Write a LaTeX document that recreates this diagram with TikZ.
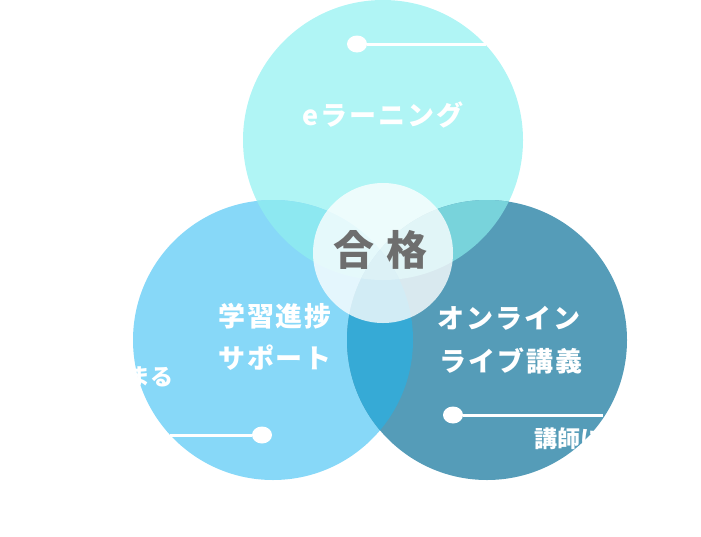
\documentclass[tikz,border=0pt]{standalone}
\usepackage{fontspec}
\newfontfamily\jp{Noto Sans CJK JP}
\usetikzlibrary{shapes.geometric}
\definecolor{cT}{HTML}{B0F5F5}
\definecolor{cL}{HTML}{87D8F8}
\definecolor{cR}{HTML}{559CB8}
\definecolor{cTL}{HTML}{8DE8F1}
\definecolor{cTR}{HTML}{78D3DB}
\definecolor{cLR}{HTML}{36AAD6}
\definecolor{cTLR}{HTML}{60C0D8}
\definecolor{cGray}{HTML}{6E6E6E}
\tikzset{
  lbl/.style={inner sep=0pt, text=white, font=\jp\bfseries\fontsize{27}{32}\selectfont\addfontfeatures{LetterSpace=7}},
  small/.style={inner sep=0pt, text=white, font=\jp\bfseries\fontsize{23}{27}\selectfont},
  big/.style={inner sep=0pt, text=cGray, font=\jp\bfseries\fontsize{41}{45}\selectfont},
  dot/.style={ellipse, fill=white, inner sep=0pt, minimum width=20pt, minimum height=17pt},
  wline/.style={draw=white, line width=3pt},
}
\begin{document}
\begin{tikzpicture}[x=1pt,y=-1pt]
\useasboundingbox (0,0) rectangle (701,536);
\coordinate (T) at (383,140);
\coordinate (L) at (273,340);
\coordinate (R) at (487,340);
\def\rr{140pt}
\fill[cT] (T) circle[radius=\rr];
\fill[cL] (L) circle[radius=\rr];
\fill[cR] (R) circle[radius=\rr];
\begin{scope}
  \clip (T) circle[radius=\rr];
  \fill[cTL] (L) circle[radius=\rr];
  \fill[cTR] (R) circle[radius=\rr];
\end{scope}
\begin{scope}
  \clip (L) circle[radius=\rr];
  \fill[cLR] (R) circle[radius=\rr];
  \clip (R) circle[radius=\rr];
  \fill[cTLR] (T) circle[radius=\rr];
\end{scope}
\node[circle, fill=white, fill opacity=0.78, minimum size=140pt, inner sep=0pt] (C) at (383,253) {};
% connectors
\node[dot] (d1) at (357,44) {};
\coordinate (e1) at (486,44);
\draw[wline] (d1) -- (e1);
\node[dot] (d2) at (262,435) {};
\coordinate (e2) at (170,435);
\draw[wline] (d2) -- (e2);
\node[dot] (d3) at (453,415) {};
\coordinate (e3) at (603,415);
\draw[wline] (d3) -- (e3);
% texts
\node[lbl] (t1) at (383,115) {eラーニング};
\node[lbl] (t2) at (275,316) {学習進捗};
\node[lbl] (t3) at (275,358) {サポート};
\node[lbl] (t4) at (509,318) {オンライン};
\node[lbl] (t5) at (511,361) {ライブ講義};
\node[big] (g1) at (354,250) {合};
\node[big] (g2) at (407,250) {格};
\node[small, anchor=east] (s1) at (174,377) {まる};
\node[small, anchor=west] (s2) at (534,439) {講師に};
\end{tikzpicture}
\end{document}
